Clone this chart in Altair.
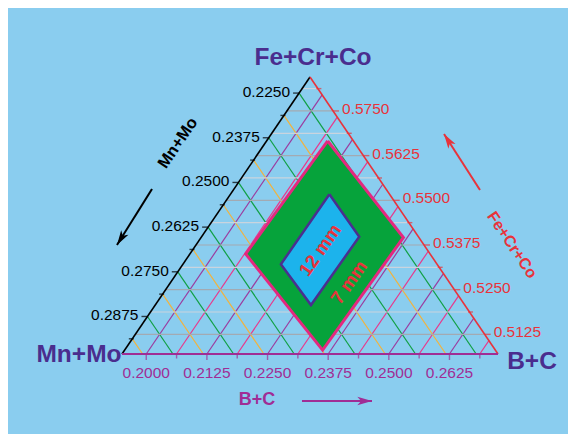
import math
import altair as alt
import pandas as pd

# ---------------- ternary frame (minimum fractions at the apexes, common span)
B0, M0, F0, SPAN = 0.195, 0.2205, 0.507, 0.0775

# ---------------- tick values along each axis
bc_ticks = [0.2000, 0.20625, 0.2125, 0.21875, 0.2250, 0.23125, 0.2375, 0.24375,
            0.2500, 0.25625, 0.2625, 0.26875]
mn_ticks = [0.2250, 0.23125, 0.2375, 0.24375, 0.2500, 0.25625, 0.2625, 0.26875,
            0.2750, 0.28125, 0.2875, 0.29375]
fe_ticks = [0.5125, 0.51875, 0.5250, 0.53125, 0.5375, 0.54375, 0.5500, 0.55625,
            0.5625, 0.56875, 0.5750, 0.58125]

# ---------------- regions (vertices: top, right, bottom, left, back to top)
green_bc = [0.2076, 0.2367, 0.2358, 0.2065, 0.2076]
green_mn = [0.2258, 0.2237, 0.2561, 0.2585, 0.2258]
blue_bc = [0.2154, 0.2275, 0.2271, 0.2152, 0.2154]
blue_mn = [0.2329, 0.2327, 0.2522, 0.2527, 0.2329]

# ---------------- colours
BG = "#8acdef"
C_BC_MAJ, C_BC_MIN = "#9b3c9f", "#e8388c"
C_MN_MAJ, C_MN_MIN = "#10a044", "#f2b33d"
C_FE_MAJ, C_FE_MIN = "#a3aab2", "#c9d4de"
C_LEFT, C_RIGHT, C_BOTTOM = "#000000", "#e8333b", "#a02d95"
C_TITLE = "#4a2d8e"
C_RED_TXT = "#e8333b"
FONT = "Liberation Sans"

W, H = 560, 426
X_DOM = [-0.303191, 1.186170]
Y_DOM = [-0.288809, 1.249097]
PX_X = W / (X_DOM[1] - X_DOM[0])
PX_Y = H / (Y_DOM[1] - Y_DOM[0])


def cart(b, m):
    f = 1 - b - m
    w = (f - F0) / SPAN
    u = (b - B0) / SPAN
    return u + w / 2, w


def is_major(v):
    q = v / 0.0125
    return abs(q - round(q)) < 1e-6


xs = alt.Scale(domain=X_DOM, nice=False, zero=False)
ys = alt.Scale(domain=Y_DOM, nice=False, zero=False)
X = lambda f: alt.X(f, type="quantitative", scale=xs, axis=None)
Y = lambda f: alt.Y(f, type="quantitative", scale=ys, axis=None)
NOCOL = lambda f: alt.Color(f, type="nominal", scale=None)

# ---------------- grid lines
grid_rows = []
for b in bc_ticks:
    x1, y1 = cart(b, 1 - b - F0)
    x2, y2 = cart(b, M0)
    grid_rows.append(dict(x=x1, y=y1, x2=x2, y2=y2, c=C_BC_MAJ if is_major(b) else C_BC_MIN))
for m in mn_ticks:
    x1, y1 = cart(B0, m)
    x2, y2 = cart(1 - m - F0, m)
    grid_rows.append(dict(x=x1, y=y1, x2=x2, y2=y2, c=C_MN_MAJ if is_major(m) else C_MN_MIN))
for f in fe_ticks:
    x1, y1 = cart(B0, 1 - B0 - f)
    x2, y2 = cart(1 - M0 - f, M0)
    grid_rows.append(dict(x=x1, y=y1, x2=x2, y2=y2, c=C_FE_MAJ if is_major(f) else C_FE_MIN))
grid_df = pd.DataFrame(grid_rows)
grid = alt.Chart(grid_df).mark_rule(strokeWidth=1.2).encode(
    x=X("x"), y=Y("y"), x2="x2", y2="y2", color=NOCOL("c"))


# ---------------- regions
def poly_df(bcs, mns):
    pts = [cart(b, m) for b, m in zip(bcs, mns)]
    return pd.DataFrame({"x": [p[0] for p in pts], "y": [p[1] for p in pts],
                         "i": list(range(len(pts)))})


green_df = poly_df(green_bc, green_mn)
blue_df = poly_df(blue_bc, blue_mn)
green = alt.Chart(green_df).mark_line(fill="#06a33b", stroke="#e5287f", strokeWidth=3,
                                      strokeJoin="miter").encode(
    x=X("x"), y=Y("y"), order="i:Q")
blue = alt.Chart(blue_df).mark_line(fill="#1cb3ec", stroke="#4a2f8f", strokeWidth=2.5,
                                    strokeJoin="miter").encode(
    x=X("x"), y=Y("y"), order="i:Q")

# ---------------- triangle sides
vL = cart(B0, M0 + SPAN)
vR = cart(B0 + SPAN, M0)
vT = cart(B0, M0)
sides_df = pd.DataFrame([
    dict(x=vL[0], y=vL[1], x2=vT[0], y2=vT[1], c=C_LEFT, w=1.6),
    dict(x=vR[0], y=vR[1], x2=vT[0], y2=vT[1], c=C_RIGHT, w=1.6),
    dict(x=vL[0], y=vL[1], x2=vR[0], y2=vR[1], c=C_BOTTOM, w=2.2),
])
sides = alt.Chart(sides_df).mark_rule().encode(
    x=X("x"), y=Y("y"), x2="x2", y2="y2", color=NOCOL("c"),
    strokeWidth=alt.StrokeWidth("w:Q", scale=None))

# ---------------- ticks & labels
left_df = pd.DataFrame([dict(zip(("x", "y"), cart(B0, m)), v=m, lab=f"{m:.4f}", major=is_major(m))
                        for m in mn_ticks])
right_df = pd.DataFrame([dict(zip(("x", "y"), cart(1 - M0 - f, M0)), v=f, lab=f"{f:.4f}", major=is_major(f))
                         for f in fe_ticks])
bottom_df = pd.DataFrame([dict(zip(("x", "y"), cart(b, 1 - b - F0)), v=b, lab=f"{b:.4f}", major=is_major(b))
                          for b in bc_ticks])

layers_ticks = []
for df, col, orient, off_major, off_minor in [
    (left_df, C_LEFT, "horizontal", dict(xOffset=-3), dict(xOffset=-1)),
    (right_df, C_RIGHT, "horizontal", dict(xOffset=3), dict(xOffset=1)),
    (bottom_df, C_BOTTOM, "vertical", dict(yOffset=3), dict(yOffset=2)),
]:
    layers_ticks.append(alt.Chart(df[df.major]).mark_tick(
        orient=orient, color=col, thickness=1.4, size=6, **off_major).encode(x=X("x"), y=Y("y")))
    layers_ticks.append(alt.Chart(df[~df.major]).mark_tick(
        orient=orient, color=col, thickness=1.4, size=5, **off_minor).encode(x=X("x"), y=Y("y")))

lab_left = alt.Chart(left_df[left_df.major]).mark_text(
    align="right", baseline="middle", dx=-9, dy=-1, font=FONT, fontSize=15.5, color=C_LEFT
).encode(x=X("x"), y=Y("y"), text="lab:N")
lab_right = alt.Chart(right_df[right_df.major]).mark_text(
    align="left", baseline="middle", dx=9, dy=-2, font=FONT, fontSize=15.5, color=C_RIGHT
).encode(x=X("x"), y=Y("y"), text="lab:N")
lab_bottom = alt.Chart(bottom_df[bottom_df.major]).mark_text(
    align="center", baseline="middle", dy=19, font=FONT, fontSize=15.5, color=C_BOTTOM
).encode(x=X("x"), y=Y("y"), text="lab:N")

# ---------------- titles / annotations (positions in the triangle's own frame)
ann_text = ["Fe+Cr+Co", "Mn+Mo", "B+C", "Mn+Mo", "Fe+Cr+Co", "B+C"]
ann_x = [0.508, -0.1144, 1.0904, 0.1489, 1.0372, 0.3590]
ann_y = [1.0686, -0.0036, -0.0289, 0.7617, 0.3935, -0.1661]
ann_size = [24.5, 24.5, 24.5, 16.5, 16, 18]
ann_angle = [0, 0, 0, 304, 56, 0]
ann_color = [C_TITLE, C_TITLE, C_TITLE, "#000000", C_RED_TXT, C_BOTTOM]
ann_df = pd.DataFrame(dict(t=ann_text, x=ann_x, y=ann_y, s=ann_size, a=ann_angle, c=ann_color))
ann = alt.Chart(ann_df).mark_text(font=FONT, fontWeight="bold", align="center",
                                  baseline="middle").encode(
    x=X("x"), y=Y("y"), text="t:N", color=NOCOL("c"),
    size=alt.Size("s:Q", scale=None), angle=alt.Angle("a:Q", scale=None))

# region labels: "12 mm" at blue centroid, "7 mm" between the lower-right edges
bcx, bcy = blue_df.x[:4].mean(), blue_df.y[:4].mean()
gmx, gmy = (green_df.x[1] + green_df.x[2]) / 2, (green_df.y[1] + green_df.y[2]) / 2
bmx, bmy = (blue_df.x[1] + blue_df.x[2]) / 2, (blue_df.y[1] + blue_df.y[2]) / 2
reg_df = pd.DataFrame(dict(t=["12 mm", "7 mm"], x=[bcx, (gmx + bmx) / 2],
                           y=[bcy, (gmy + bmy) / 2]))
reg = alt.Chart(reg_df).mark_text(font=FONT, fontWeight="bold", fontSize=18.5, angle=305,
                                  color=C_RED_TXT, align="center", baseline="middle").encode(
    x=X("x"), y=Y("y"), text="t:N")

# ---------------- arrows (tail -> tip)
arr_x = [0.0798, 0.9521, 0.4787]
arr_y = [0.5957, 0.5921, -0.1697]
arr_x2 = [-0.0133, 0.8564, 0.6649]
arr_y2 = [0.3935, 0.7942, -0.1697]
arr_c = ["#000000", C_RED_TXT, C_BOTTOM]
arr_df = pd.DataFrame(dict(x=arr_x, y=arr_y, x2=arr_x2, y2=arr_y2, c=arr_c))
arr_df["ang"] = [
    (math.degrees(math.atan2((x2 - x1) * PX_X, (y2 - y1) * PX_Y)) + 360) % 360
    for x1, y1, x2, y2 in zip(arr_x, arr_y, arr_x2, arr_y2)]
shafts = alt.Chart(arr_df).mark_rule(strokeWidth=2).encode(
    x=X("x"), y=Y("y"), x2="x2", y2="y2", color=NOCOL("c"))
heads = alt.Chart(arr_df).mark_point(
    shape="M0,0 L0.55,1.9 L0,1.4 L-0.55,1.9 Z", filled=True, size=240, opacity=1).encode(
    x=X("x2"), y=Y("y2"), color=NOCOL("c"), angle=alt.Angle("ang:Q", scale=None))

chart = alt.layer(
    grid, green, blue, sides, *layers_ticks, lab_left, lab_right, lab_bottom,
    ann, reg, shafts, heads
).properties(
    width=W, height=H, background=BG, padding=0,
    autosize=alt.AutoSizeParams(type="none")
).configure_view(stroke=None)

chart.save("out.html", embed_options={"renderer": "svg", "actions": False})
